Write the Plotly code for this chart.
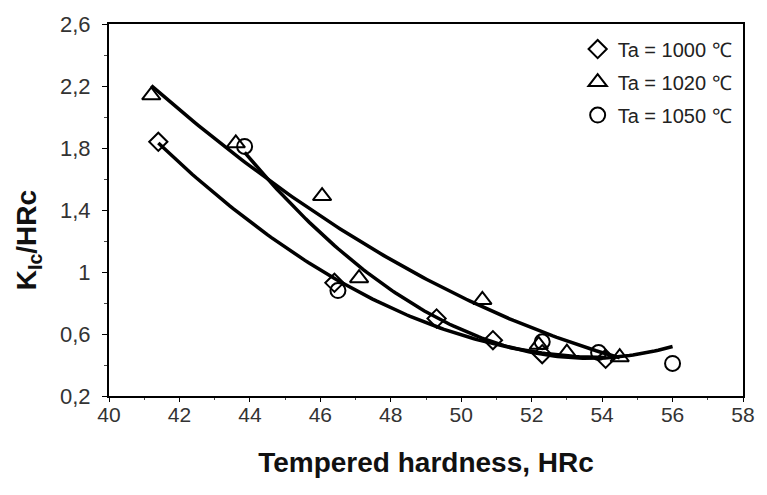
import numpy as np
import plotly.graph_objects as go

# Measured points: fracture toughness ratio vs tempered hardness
ta1000_x = [41.4, 46.4, 49.3, 50.9, 52.3, 54.1]
ta1000_y = [1.84, 0.93, 0.70, 0.56, 0.47, 0.44]

ta1020_x = [41.2, 43.6, 46.05, 47.1, 50.6, 52.2, 53.0, 54.5]
ta1020_y = [2.14, 1.83, 1.49, 0.96, 0.82, 0.53, 0.48, 0.45]

ta1050_x = [43.85, 46.5, 52.3, 53.9, 56.0]
ta1050_y = [1.81, 0.88, 0.55, 0.48, 0.41]

# Points lying on each second-order trend curve
trend1000_x = [41.4, 45.1, 46.4, 49.3, 54.1]
trend1000_y = [1.84, 1.14, 0.93, 0.68, 0.44]

trend1020_x = [41.2, 46.0, 50.56, 54.5]
trend1020_y = [2.20, 1.37, 0.77, 0.45]

trend1050_x = [43.85, 45.1, 47.33, 52.3, 56.0]
trend1050_y = [1.80, 1.42, 0.99, 0.49, 0.51]

series_names = ["Ta = 1000 \u2103", "Ta = 1020 \u2103", "Ta = 1050 \u2103"]
series_symbols = ["diamond-open", "triangle-up-open", "circle-open"]
series_sizes = [14, 16, 15]

y_tickvals = [0.2, 0.6, 1.0, 1.4, 1.8, 2.2, 2.6]
y_ticktext = ["0,2", "0,6", "1", "1,4", "1,8", "2,2", "2,6"]
x_tickvals = [40, 42, 44, 46, 48, 50, 52, 54, 56, 58]

FONT = "Liberation Sans, Arial, sans-serif"

fig = go.Figure()

series = [(ta1000_x, ta1000_y), (ta1020_x, ta1020_y), (ta1050_x, ta1050_y)]
trends = [(trend1000_x, trend1000_y), (trend1020_x, trend1020_y),
          (trend1050_x, trend1050_y)]

# quadratic trend curve for each series
for xs, ys in trends:
    coef = np.polyfit(xs, ys, 2)
    xf = np.linspace(min(xs), max(xs), 120)
    fig.add_trace(go.Scatter(
        x=xf, y=np.polyval(coef, xf), mode="lines",
        line=dict(color="black", width=3.5), showlegend=False, hoverinfo="skip"))

for i, (xs, ys) in enumerate(series):
    fig.add_trace(go.Scatter(
        x=xs, y=ys, mode="markers", name=series_names[i],
        legendgroup=f"g{i}",
        marker=dict(symbol=series_symbols[i], size=series_sizes[i],
                    color="black", line=dict(color="black", width=2))))

# y-axis title, set a little below the middle of the plot height
fig.add_annotation(
    text="<b>K<sub>Ic</sub>/HRc</b>", textangle=-90,
    xref="paper", yref="paper", x=-0.127, y=0.42,
    xanchor="center", yanchor="middle", showarrow=False,
    font=dict(size=28, family=FONT, color="#111"))

fig.update_layout(
    width=767, height=495,
    margin=dict(l=109, r=17, t=21, b=99),
    paper_bgcolor="white", plot_bgcolor="white",
    font=dict(family=FONT, color="#222"),
    legend=dict(x=0.99, y=0.985, xanchor="right", yanchor="top",
                font=dict(size=20, family=FONT, color="#222"),
                bgcolor="rgba(0,0,0,0)", tracegroupgap=4, itemwidth=30),
    xaxis=dict(range=[40, 58], tickvals=x_tickvals,
               showline=True, linecolor="black", linewidth=2, mirror=True,
               ticks="outside", ticklen=4, tickcolor="black",
               ticklabelstandoff=-5,
               minor=dict(dtick=1, ticks="outside", ticklen=2, tickcolor="#444"),
               showgrid=False, zeroline=False,
               tickfont=dict(size=21, family=FONT, color="#333"),
               title=dict(text="<b>Tempered hardness, HRc</b>",
                          font=dict(size=28, family=FONT, color="#111"), standoff=27)),
    yaxis=dict(range=[0.2, 2.6], tickvals=y_tickvals, ticktext=y_ticktext,
               showline=True, linecolor="black", linewidth=2, mirror=True,
               ticks="outside", ticklen=5, tickcolor="black",
               ticklabelstandoff=7,
               minor=dict(dtick=0.2, ticks="outside", ticklen=3, tickcolor="#444"),
               showgrid=False, zeroline=False,
               tickfont=dict(size=22, family=FONT, color="#333")),
)

fig.write_html("out.html")
